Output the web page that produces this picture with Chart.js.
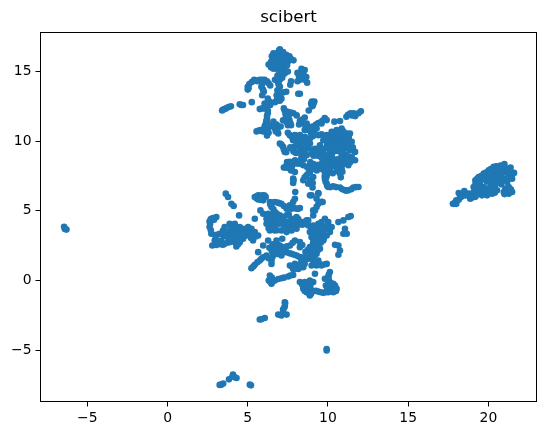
<!DOCTYPE html>
<html><head><meta charset="utf-8">
<script src="https://cdn.jsdelivr.net/npm/chart.js@4"></script>
<style>html,body{margin:0;padding:0;background:#fff}canvas{display:block}</style>
</head><body><canvas id="c" width="546" height="435"></canvas>
<script>
const title = "scibert";
const xTicks = [-5,0,5,10,15,20];
const yTicks = [-5,0,5,10,15];
const xRange = [-7.92,23];
const yRange = [-8.69,17.8];
const topBlob = [[7.0,16.6],[6.6,16.3],[6.8,16.3],[7.1,16.3],[7.4,16.2],[7.6,16.1],[7.85,15.8],[6.6,15.9],[6.85,15.9],[7.1,16.0],[7.3,15.7],[7.5,15.7],[6.3,15.5],[6.55,15.5],[6.8,15.5],[7.05,15.5],[7.3,15.35],[6.6,15.2],[6.9,15.1],[7.2,15.1],[7.0,14.75],[7.3,14.85],[6.7,14.4],[7.0,14.4],[8.35,15.2],[8.55,15.1],[8.45,14.9],[8.1,14.9],[8.65,14.6],[8.55,14.4],[8.25,14.4],[8.7,14.2],[8.1,14.3],[6.7,16.05],[7.0,15.8],[7.25,15.95],[6.45,15.7],[6.75,15.7],[7.0,15.25],[7.45,15.45],[6.45,15.3],[7.1,14.9],[6.85,14.7],[7.5,15.0],[7.15,14.55],[6.95,16.5],[7.2,16.4],[6.5,16.1],[7.7,15.9],[8.4,15.05],[8.5,14.7],[8.35,14.5],[8.2,14.65]];
const upperArms = [[5.0,13.9],[5.1,14.1],[5.4,14.4],[5.75,14.4],[6.05,14.4],[6.4,14.0],[5.85,13.9],[6.0,13.55],[5.9,13.3],[5.0,13.7],[5.6,14.3],[6.9,14.15],[7.0,13.9],[6.85,13.65],[6.8,13.3],[7.05,13.45],[7.4,13.55],[6.9,12.95],[7.1,13.05],[6.7,12.8],[6.25,13.05],[6.25,12.8],[6.05,12.7],[6.4,12.6],[5.75,12.3],[6.05,12.35],[6.25,12.0],[6.2,11.6],[6.2,11.3],[7.7,14.3],[7.65,14.05],[8.15,13.4],[8.25,13.4],[3.45,12.25],[3.65,12.35],[3.95,12.5],[4.5,12.65],[4.7,12.6],[5.25,12.8],[9.0,12.85],[9.15,12.85],[9.05,12.55],[8.8,12.2],[5.55,10.7],[5.8,10.8],[6.05,11.05],[6.25,10.9],[5.95,10.7],[6.2,10.4],[6.4,11.05],[6.6,11.4],[6.7,10.9],[6.9,10.55],[6.75,10.7],[7.05,11.05],[7.25,12.35],[7.5,12.1],[7.85,12.0],[8.05,11.85],[7.4,11.7],[7.6,11.5],[7.4,11.4],[7.2,11.5],[7.7,11.15],[7.5,11.15],[8.55,11.7],[8.25,11.45],[8.2,11.2],[8.65,11.15],[8.75,10.8],[8.55,10.8],[9.8,11.65],[9.6,11.4],[9.4,11.3],[9.1,11.05],[8.9,10.85],[10.4,11.4],[10.75,11.45],[11.15,11.75],[11.4,12.0],[11.7,11.8],[11.9,12.0],[12.05,12.15],[11.6,12.0],[5.25,14.25],[5.5,14.35],[5.9,14.4],[6.2,14.3],[5.9,14.1],[6.3,14.15],[5.95,13.7],[5.05,13.8],[6.95,14.0],[6.9,13.5],[6.95,13.2],[6.85,13.05],[7.2,13.5],[6.35,12.85],[6.15,12.55],[5.9,12.35],[6.25,12.2],[6.2,11.8],[6.15,11.45],[6.8,12.9],[7.0,12.9],[3.55,12.3],[3.8,12.45],[4.6,12.6],[3.4,12.2],[9.1,12.7],[8.95,12.7],[9.0,12.5],[5.7,10.75],[6.1,10.85],[6.1,11.2],[6.3,10.6],[6.25,11.2],[6.8,11.2],[6.65,11.15],[6.85,10.75],[5.65,10.75],[7.3,12.2],[7.7,12.05],[7.35,11.95],[7.3,11.55],[7.55,11.8],[7.55,11.3],[7.65,11.3],[8.4,11.55],[8.4,11.3],[8.7,11.0],[8.6,10.95],[9.25,11.2],[9.0,10.95],[9.5,11.3],[9.7,11.5],[11.25,11.9],[11.5,11.85]];
const middleMass = [[7.62,10.43],[7.94,10.43],[8.25,10.43],[8.56,10.31],[8.88,10.19],[7.83,10.07],[8.25,9.95],[8.56,9.95],[8.88,9.83],[7.0,9.83],[7.2,9.59],[7.31,9.23],[7.73,9.47],[8.04,9.71],[8.35,9.47],[8.77,9.47],[9.08,10.79],[8.98,11.03],[9.29,10.91],[9.6,11.27],[9.92,11.51],[8.67,11.27],[8.88,10.91],[9.4,10.43],[9.71,10.07],[9.5,9.71],[9.92,10.43],[10.23,10.67],[10.54,10.79],[10.85,10.91],[11.06,10.55],[11.37,10.55],[10.44,10.31],[10.75,10.19],[10.12,9.95],[10.44,9.83],[10.85,9.83],[11.17,10.07],[11.48,9.95],[9.81,9.47],[10.12,9.35],[10.44,9.47],[10.75,9.47],[11.06,9.47],[11.37,9.35],[11.69,9.23],[11.69,8.63],[11.48,8.87],[11.17,8.99],[10.85,8.99],[10.23,8.99],[9.92,8.99],[9.6,9.11],[9.29,9.23],[8.98,9.11],[8.67,8.99],[8.35,8.87],[7.94,8.63],[7.62,8.51],[7.42,8.27],[7.25,8.1],[7.62,8.03],[7.94,7.79],[8.15,8.39],[8.46,8.27],[8.88,8.27],[9.19,8.15],[9.5,8.03],[9.81,8.27],[10.12,8.39],[10.44,8.51],[10.75,8.39],[11.06,8.63],[11.27,8.27],[10.85,8.03],[10.75,7.67],[10.12,7.91],[9.81,7.79],[8.88,7.79],[8.67,7.55],[9.08,7.43],[8.46,7.19],[8.77,6.95],[9.04,6.67],[7.83,7.31],[7.83,7.0],[9.81,7.31],[9.92,6.95],[10.02,6.71],[10.33,6.76],[10.75,6.67],[11.06,6.47],[11.27,6.47],[11.58,6.67],[11.9,6.71],[8.88,6.11],[9.4,6.28],[9.6,5.64],[9.29,5.28],[9.08,5.03]];
const middleDense = [[7.5,10.6],[7.75,10.3],[8.1,10.3],[8.4,10.2],[8.7,10.15],[9.05,10.35],[8.95,10.55],[9.2,10.5],[9.6,10.5],[9.75,10.35],[10.05,10.15],[10.25,10.35],[10.35,10.6],[10.6,10.55],[10.7,10.4],[10.95,10.35],[11.2,10.55],[10.95,10.7],[10.6,10.0],[10.8,10.0],[11.0,10.2],[11.3,10.25],[10.3,10.1],[9.9,10.1],[9.95,9.75],[10.25,9.75],[10.65,9.65],[11.0,9.7],[11.3,9.75],[11.55,9.55],[11.25,9.5],[10.95,9.3],[10.6,9.3],[10.3,9.2],[10.0,9.55],[9.7,9.3],[9.45,9.4],[9.2,9.45],[9.0,9.4],[8.55,9.2],[8.2,9.2],[8.0,9.15],[7.85,9.25],[9.1,8.95],[9.35,8.95],[9.6,8.8],[9.85,8.7],[10.1,8.65],[10.35,8.7],[10.6,8.7],[10.9,8.75],[11.2,8.7],[11.4,8.5],[10.95,8.35],[10.55,8.15],[10.3,8.2],[10.0,8.15],[9.65,8.2],[9.4,8.3],[9.1,8.35],[8.7,8.15],[8.3,8.4],[8.0,8.4],[7.8,8.4],[7.75,8.15],[8.25,8.6],[8.5,8.7],[7.45,8.5],[7.55,8.3],[8.9,8.5],[9.65,8.45],[9.9,8.5],[9.05,8.0],[9.3,7.9],[9.7,7.95],[9.95,7.6],[10.3,7.7],[10.55,7.85],[10.9,7.8],[10.8,7.4],[8.8,7.75],[8.55,7.4],[8.9,7.2],[9.05,7.0],[9.85,7.1],[9.95,6.8],[10.15,6.7],[10.5,6.7],[10.9,6.55],[11.15,6.45],[11.45,6.55],[11.75,6.7],[7.85,7.2],[7.4,8.1],[7.7,7.9],[9.8,7.5],[9.9,7.4],[7.1,9.75],[7.25,9.4],[7.4,9.2],[7.9,9.6],[7.65,9.55],[8.15,9.6],[8.55,9.6],[8.7,9.75],[7.9,10.1],[8.1,10.05],[8.4,9.85]];
const leftLobe = [[3.63,6.23],[3.77,5.99],[3.98,5.51],[4.12,5.34],[2.83,4.48],[3.04,4.55],[2.62,4.24],[2.62,3.83],[2.73,3.35],[2.94,2.87],[2.79,2.51],[3.15,2.63],[3.46,2.56],[3.77,2.75],[3.46,3.59],[3.56,3.83],[3.87,4.07],[4.19,4.07],[4.5,3.83],[4.71,3.71],[5.02,3.83],[5.23,3.71],[5.44,4.43],[4.46,4.67],[3.77,3.47],[4.08,3.59],[4.4,3.47],[4.71,3.35],[3.77,3.11],[4.08,3.11],[4.4,3.11],[4.71,2.99],[3.87,2.75],[4.19,2.75],[4.5,2.75],[4.29,2.44],[4.92,3.23],[5.23,3.35],[5.44,3.47],[5.65,3.23],[5.33,2.87],[3.04,3.28],[3.0,3.04],[3.25,3.35],[3.5,3.18],[3.35,2.87],[3.9,3.3],[4.25,3.3],[4.55,3.25],[3.95,2.95],[4.25,2.95],[4.55,2.95],[3.95,3.8],[4.25,3.8],[4.6,3.55],[4.85,3.5],[5.1,3.5],[3.6,3.3],[3.6,2.65],[3.3,2.6],[3.05,2.55],[2.7,3.6],[2.65,4.05],[2.9,4.35],[2.7,4.4],[5.5,3.15],[5.2,3.05],[4.4,2.6]];
const lowerCenter = [[5.44,5.99],[5.65,6.11],[5.96,6.11],[5.65,5.82],[5.96,5.75],[6.12,5.99],[7.96,6.35],[7.94,5.87],[7.83,5.63],[7.62,5.39],[7.42,5.27],[8.98,6.11],[9.4,6.23],[9.29,5.87],[9.67,5.63],[9.4,5.51],[9.19,5.03],[9.08,4.67],[8.77,4.31],[6.38,5.63],[6.69,5.63],[7.1,5.51],[7.42,5.15],[7.73,5.15],[8.04,5.15],[8.25,5.2],[6.48,5.27],[6.69,4.91],[5.79,5.03],[5.96,4.79],[6.27,4.79],[6.48,4.67],[6.17,4.43],[6.48,4.31],[6.17,4.07],[6.48,3.95],[6.69,4.0],[7.0,4.67],[7.21,4.55],[7.42,4.67],[7.73,4.43],[8.04,4.55],[8.25,4.19],[7.0,4.07],[7.31,3.95],[7.63,3.95],[7.94,4.07],[6.38,3.59],[6.69,3.59],[7.1,3.59],[7.42,3.47],[7.73,3.59],[8.04,3.71],[8.46,4.19],[8.67,4.31],[8.77,3.95],[5.23,0.88],[5.44,1.12],[5.75,1.43],[5.96,1.67],[6.17,1.79],[6.48,1.43],[6.48,1.19],[5.65,2.03],[5.96,2.51],[6.27,2.87],[6.79,2.87],[7.15,2.99],[6.69,2.39],[7.0,2.51],[7.31,2.39],[7.63,2.51],[7.94,2.87],[8.25,2.75],[8.25,2.39],[6.69,2.03],[7.0,2.03],[7.42,2.03],[7.73,1.91],[8.04,1.79],[8.35,1.67],[7.63,1.07],[7.94,1.19],[8.25,1.07],[7.83,0.83],[8.15,0.83],[8.35,1.43],[7.1,1.79],[8.46,0.95],[5.55,6.05],[5.8,6.1],[5.55,5.9],[5.8,5.8],[6.05,6.1],[5.85,5.95],[6.55,5.6],[6.85,5.6],[6.95,5.55],[7.25,5.35],[7.55,5.2],[7.9,5.2],[8.15,5.15],[6.4,5.45],[6.6,5.1],[6.8,4.8],[6.3,4.6],[6.3,4.3],[6.3,4.0],[6.5,4.5],[6.65,4.3],[6.8,4.5],[7.55,4.75],[8.15,4.4],[7.6,4.2],[7.9,4.3],[7.15,4.3],[7.45,4.2],[6.85,4.1],[6.3,3.75],[6.55,3.75],[6.85,3.6],[7.25,3.7],[7.6,3.7],[7.9,3.8],[8.15,4.0],[8.4,4.0],[5.35,1.0],[5.6,1.3],[5.85,1.55],[6.3,1.6],[6.55,1.7],[6.85,1.9],[7.2,2.0],[7.6,1.95],[7.9,1.85],[8.2,1.7],[6.85,2.3],[7.15,2.35],[7.45,2.45],[7.8,2.7],[8.4,2.55],[6.5,2.1],[6.35,2.35],[6.85,2.6],[6.55,2.6],[7.95,1.1],[8.1,1.05],[8.3,1.2],[7.75,1.0],[8.0,0.85],[8.3,0.95],[8.55,1.2]];
const lowerRight = [[9.08,3.95],[9.4,4.07],[9.81,4.43],[10.02,4.19],[10.23,3.83],[9.81,3.71],[9.5,3.59],[9.19,3.47],[8.87,3.47],[8.98,3.11],[9.29,3.11],[9.6,3.23],[9.92,3.23],[10.12,3.47],[9.08,2.75],[9.4,2.75],[9.71,2.87],[8.87,2.39],[9.19,2.39],[9.5,2.27],[8.98,2.03],[9.29,1.91],[8.77,1.55],[9.08,1.43],[9.4,1.43],[9.29,1.07],[9.6,1.07],[9.92,1.19],[8.98,1.07],[10.65,4.19],[10.96,4.31],[11.27,4.55],[11.42,4.62],[11.06,3.71],[11.17,3.35],[10.96,3.35],[10.44,2.56],[10.65,2.51],[10.75,2.15],[10.65,1.84],[8.95,3.8],[9.25,3.75],[9.65,3.9],[9.95,3.95],[9.6,4.2],[10.1,3.65],[9.7,3.5],[9.35,3.3],[9.1,3.25],[9.75,3.05],[9.2,2.95],[9.5,3.0],[9.55,2.7],[9.25,2.55],[9.05,2.55],[8.75,2.2],[9.35,2.15],[9.1,2.2],[9.15,1.75],[8.9,1.8],[9.45,1.2],[9.15,1.2],[9.75,1.15],[8.6,2.05],[8.65,1.7],[8.5,1.55]];
const bottomBand = [[6.38,0.36],[6.31,0.0],[6.48,-0.24],[6.69,0.0],[7.1,0.16],[7.52,0.28],[7.83,0.4],[8.25,-0.12],[8.56,-0.12],[8.87,0.0],[9.19,0.48],[8.46,-0.6],[8.67,-0.84],[8.98,-0.72],[8.77,-0.36],[8.87,-1.08],[9.08,-0.12],[9.4,-0.8],[9.71,-0.89],[10.02,-0.84],[10.33,-0.84],[10.54,-0.6],[10.33,-0.24],[10.02,-0.24],[10.02,0.24],[10.12,0.6],[9.81,0.12],[9.87,-0.36],[10.44,-0.36],[7.31,-1.56],[7.31,-1.85],[7.2,-2.09],[7.25,0.2],[6.9,0.1],[6.5,0.2],[6.4,-0.1],[6.55,-0.1],[7.65,0.35],[8.4,-0.3],[8.55,-0.35],[8.7,-0.55],[8.55,-0.75],[8.8,-0.9],[8.95,-0.95],[8.85,-0.15],[8.9,-0.45],[9.55,-0.85],[9.85,-0.85],[10.15,-0.7],[10.3,-0.5],[10.45,-0.5],[10.15,-0.45],[10.15,-0.15],[10.05,0.05],[10.05,0.4],[10.5,-0.75],[9.95,-0.55],[9.25,-0.75]];
const outliers = [[-6.45,3.85],[-6.4,3.7],[-6.3,3.65],[6.06,-2.7],[5.75,-2.8],[5.85,-2.78],[6.9,-2.45],[7.1,-2.52],[7.42,-2.45],[7.2,-2.3],[7.27,-1.96],[7.33,-1.63],[9.92,-4.92],[9.92,-5.03],[3.35,-7.48],[3.25,-7.5],[3.47,-7.4],[3.83,-7.1],[4.08,-6.76],[4.19,-6.95],[4.3,-7.0],[4.05,-6.9],[5.13,-7.48],[5.2,-7.53]];
const rightCluster = [[17.79,5.51],[17.94,5.63],[18.15,5.8],[18.15,6.28],[18.5,6.42],[18.46,6.11],[18.77,6.23],[19.08,6.35],[19.19,7.19],[19.4,7.43],[19.08,6.71],[19.4,6.83],[19.71,7.67],[20.02,7.91],[20.33,8.15],[20.75,8.25],[21.0,8.35],[21.38,8.1],[21.6,7.72],[21.48,7.31],[19.71,7.31],[20.02,7.43],[20.33,7.67],[20.65,7.79],[20.96,7.91],[21.27,7.55],[20.13,6.95],[20.54,7.31],[20.85,7.31],[21.17,7.07],[20.44,6.95],[19.6,6.11],[19.92,6.11],[20.23,6.23],[20.54,6.47],[20.96,6.35],[21.27,6.23],[21.48,6.35],[21.06,6.59],[21.27,6.71],[19.4,7.07],[18.87,5.87],[19.19,6.0],[19.4,6.23],[19.71,6.71],[19.0,6.2],[19.3,6.4],[19.25,6.7],[19.5,7.1],[19.2,6.95],[19.3,7.3],[19.55,7.5],[19.85,7.75],[20.15,8.0],[20.5,8.2],[20.85,8.2],[19.9,7.1],[19.85,7.5],[20.2,7.5],[20.5,7.55],[20.8,7.6],[21.1,7.75],[21.2,8.0],[20.7,8.0],[20.4,7.95],[21.4,7.8],[21.45,7.5],[21.0,7.3],[21.25,7.3],[20.7,7.1],[20.0,6.6],[20.2,6.6],[20.4,6.7],[20.8,6.9],[20.25,7.2],[19.95,7.3],[19.75,6.35],[19.45,6.55],[20.1,6.4],[20.4,6.3],[21.2,6.5],[21.15,6.35],[21.4,6.55],[21.0,6.2],[19.0,5.95],[19.25,6.15],[18.0,5.5],[18.25,5.95],[18.6,6.1],[18.0,5.75],[17.85,5.5],[18.3,6.0]];

const allPoints = [...topBlob,...upperArms,...middleMass,...middleDense,...leftLobe,...lowerCenter,...lowerRight,...bottomBand,...outliers,...rightCluster].map(p=>({x:p[0],y:p[1]}));

const frame = {id:'frame',
  beforeDraw(ch){const a=ch.chartArea;ch.titleBlock.left=a.left;ch.titleBlock.right=a.right;},
  afterDatasetsDraw(ch){const a=ch.chartArea,c=ch.ctx;c.save();c.strokeStyle='#000';c.lineWidth=1;c.strokeRect(a.left,a.top,a.right-a.left,a.bottom-a.top);c.restore();}};
const minus = v => String(v).replace('-','\u2212');
const axisFont = {family:'"DejaVu Sans"',size:13.9};
new Chart(document.getElementById('c'),{
  type:'scatter',
  data:{datasets:[{data:allPoints,backgroundColor:'#1f77b4',borderColor:'#1f77b4',borderWidth:0,pointRadius:3.3,pointHoverRadius:3.3}]},
  plugins:[frame],
  options:{
    responsive:false,animation:false,events:[],
    layout:{padding:{left:0,right:9.5,top:0,bottom:0}},
    plugins:{legend:{display:false},tooltip:{enabled:false},
      title:{display:true,text:title,color:'#000',font:{family:'"DejaVu Sans"',size:16.67,weight:'normal'},padding:{top:8,bottom:4.5}}},
    scales:{
      x:{type:'linear',min:xRange[0],max:xRange[1],
        afterBuildTicks(s){s.ticks=xTicks.map(v=>({value:v}));},
        afterFit(s){s.height=33.5;},
        grid:{drawOnChartArea:false,drawTicks:true,tickLength:5,tickColor:'#000',tickWidth:1},
        border:{display:false},
        ticks:{color:'#000',font:axisFont,maxRotation:0,autoSkip:false,padding:4,callback:minus}},
      y:{type:'linear',min:yRange[0],max:yRange[1],
        afterBuildTicks(s){s.ticks=yTicks.map(v=>({value:v}));},
        afterFit(s){s.width=40.5;},
        grid:{drawOnChartArea:false,drawTicks:true,tickLength:5,tickColor:'#000',tickWidth:1},
        border:{display:false},
        ticks:{color:'#000',font:axisFont,autoSkip:false,padding:4,callback:minus}}
    }
  }
});
</script></body></html>
